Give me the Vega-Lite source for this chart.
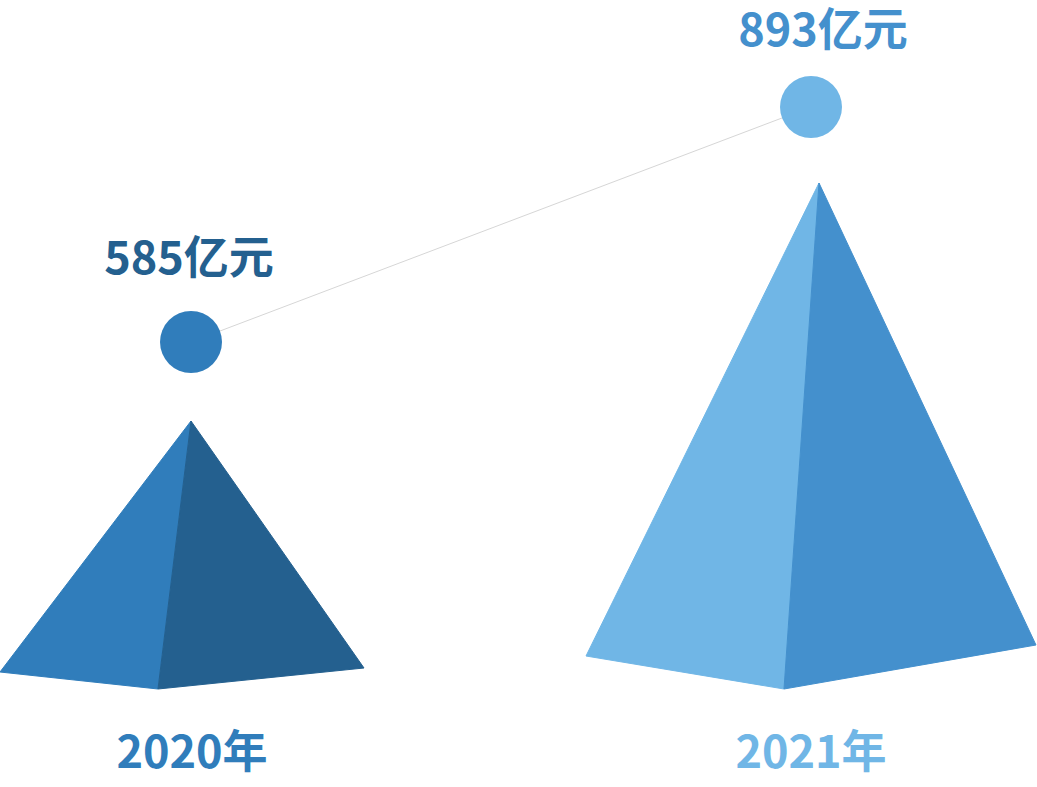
{
  "$schema": "https://vega.github.io/schema/vega-lite/v6.json",
  "autosize": {"type": "none"},
  "width": 1037,
  "height": 787,
  "padding": 0,
  "background": "white",
  "config": {"view": {"stroke": null}},
  "datasets": {
    "faces": [
      {"face": "2020左", "i": 0, "x": 191, "y": 421},
      {"face": "2020左", "i": 1, "x": 0, "y": 672},
      {"face": "2020左", "i": 2, "x": 158, "y": 689},
      {"face": "2020右", "i": 0, "x": 191, "y": 421},
      {"face": "2020右", "i": 1, "x": 158, "y": 689},
      {"face": "2020右", "i": 2, "x": 364, "y": 668},
      {"face": "2021左", "i": 0, "x": 819, "y": 183},
      {"face": "2021左", "i": 1, "x": 586, "y": 656},
      {"face": "2021左", "i": 2, "x": 784, "y": 689},
      {"face": "2021右", "i": 0, "x": 819, "y": 183},
      {"face": "2021右", "i": 1, "x": 784, "y": 689},
      {"face": "2021右", "i": 2, "x": 1036, "y": 645}
    ],
    "points": [
      {"year": "2020年", "value": 585, "label": "585亿元", "x": 191, "y": 342, "ly": 274, "lx": 189, "yx": 192, "yy": 768},
      {"year": "2021年", "value": 893, "label": "893亿元", "x": 811, "y": 107, "ly": 46, "lx": 823, "yx": 811, "yy": 768}
    ]
  },
  "layer": [
    {
      "data": {"name": "faces"},
      "mark": {"type": "line", "interpolate": "linear-closed", "strokeWidth": 1},
      "encoding": {
        "x": {"field": "x", "type": "quantitative", "scale": {"domain": [0, 1037], "nice": false, "zero": false}, "axis": null},
        "y": {"field": "y", "type": "quantitative", "scale": {"domain": [0, 787], "reverse": true, "nice": false, "zero": false}, "axis": null},
        "order": {"field": "i"},
        "detail": {"field": "face"},
        "color": {"field": "face", "type": "nominal", "legend": null,
          "scale": {"domain": ["2020左", "2020右", "2021左", "2021右"], "range": ["#307dbb", "#24608f", "#70b6e6", "#4490cd"]}},
        "fill": {"field": "face", "type": "nominal", "legend": null,
          "scale": {"domain": ["2020左", "2020右", "2021左", "2021右"], "range": ["#307dbb", "#24608f", "#70b6e6", "#4490cd"]}}
      }
    },
    {
      "data": {"name": "points"},
      "mark": {"type": "line", "color": "#d6d6d6", "strokeWidth": 1},
      "encoding": {
        "x": {"field": "x", "type": "quantitative"},
        "y": {"field": "y", "type": "quantitative"}
      }
    },
    {
      "data": {"name": "points"},
      "mark": {"type": "circle", "size": 3844, "opacity": 1},
      "encoding": {
        "x": {"field": "x", "type": "quantitative"},
        "y": {"field": "y", "type": "quantitative"},
        "color": {"field": "year", "type": "nominal", "legend": null,
          "scale": {"domain": ["2020年", "2021年"], "range": ["#307dbb", "#70b6e6"]}}
      }
    },
    {
      "data": {"name": "points"},
      "mark": {"type": "text", "font": "Noto Sans CJK SC", "fontWeight": "bold", "fontSize": 45, "baseline": "alphabetic", "align": "center"},
      "encoding": {
        "x": {"field": "lx", "type": "quantitative"},
        "y": {"field": "ly", "type": "quantitative"},
        "text": {"field": "label"},
        "color": {"field": "year", "type": "nominal", "legend": null,
          "scale": {"domain": ["2020年", "2021年"], "range": ["#24608f", "#4490cd"]}}
      }
    },
    {
      "data": {"name": "points"},
      "mark": {"type": "text", "font": "Noto Sans CJK SC", "fontWeight": "bold", "fontSize": 45, "baseline": "alphabetic", "align": "center"},
      "encoding": {
        "x": {"field": "yx", "type": "quantitative"},
        "y": {"field": "yy", "type": "quantitative"},
        "text": {"field": "year"},
        "color": {"field": "year", "type": "nominal", "legend": null,
          "scale": {"domain": ["2020年", "2021年"], "range": ["#307dbb", "#70b6e6"]}}
      }
    }
  ],
  "resolve": {"scale": {"color": "independent"}}
}
